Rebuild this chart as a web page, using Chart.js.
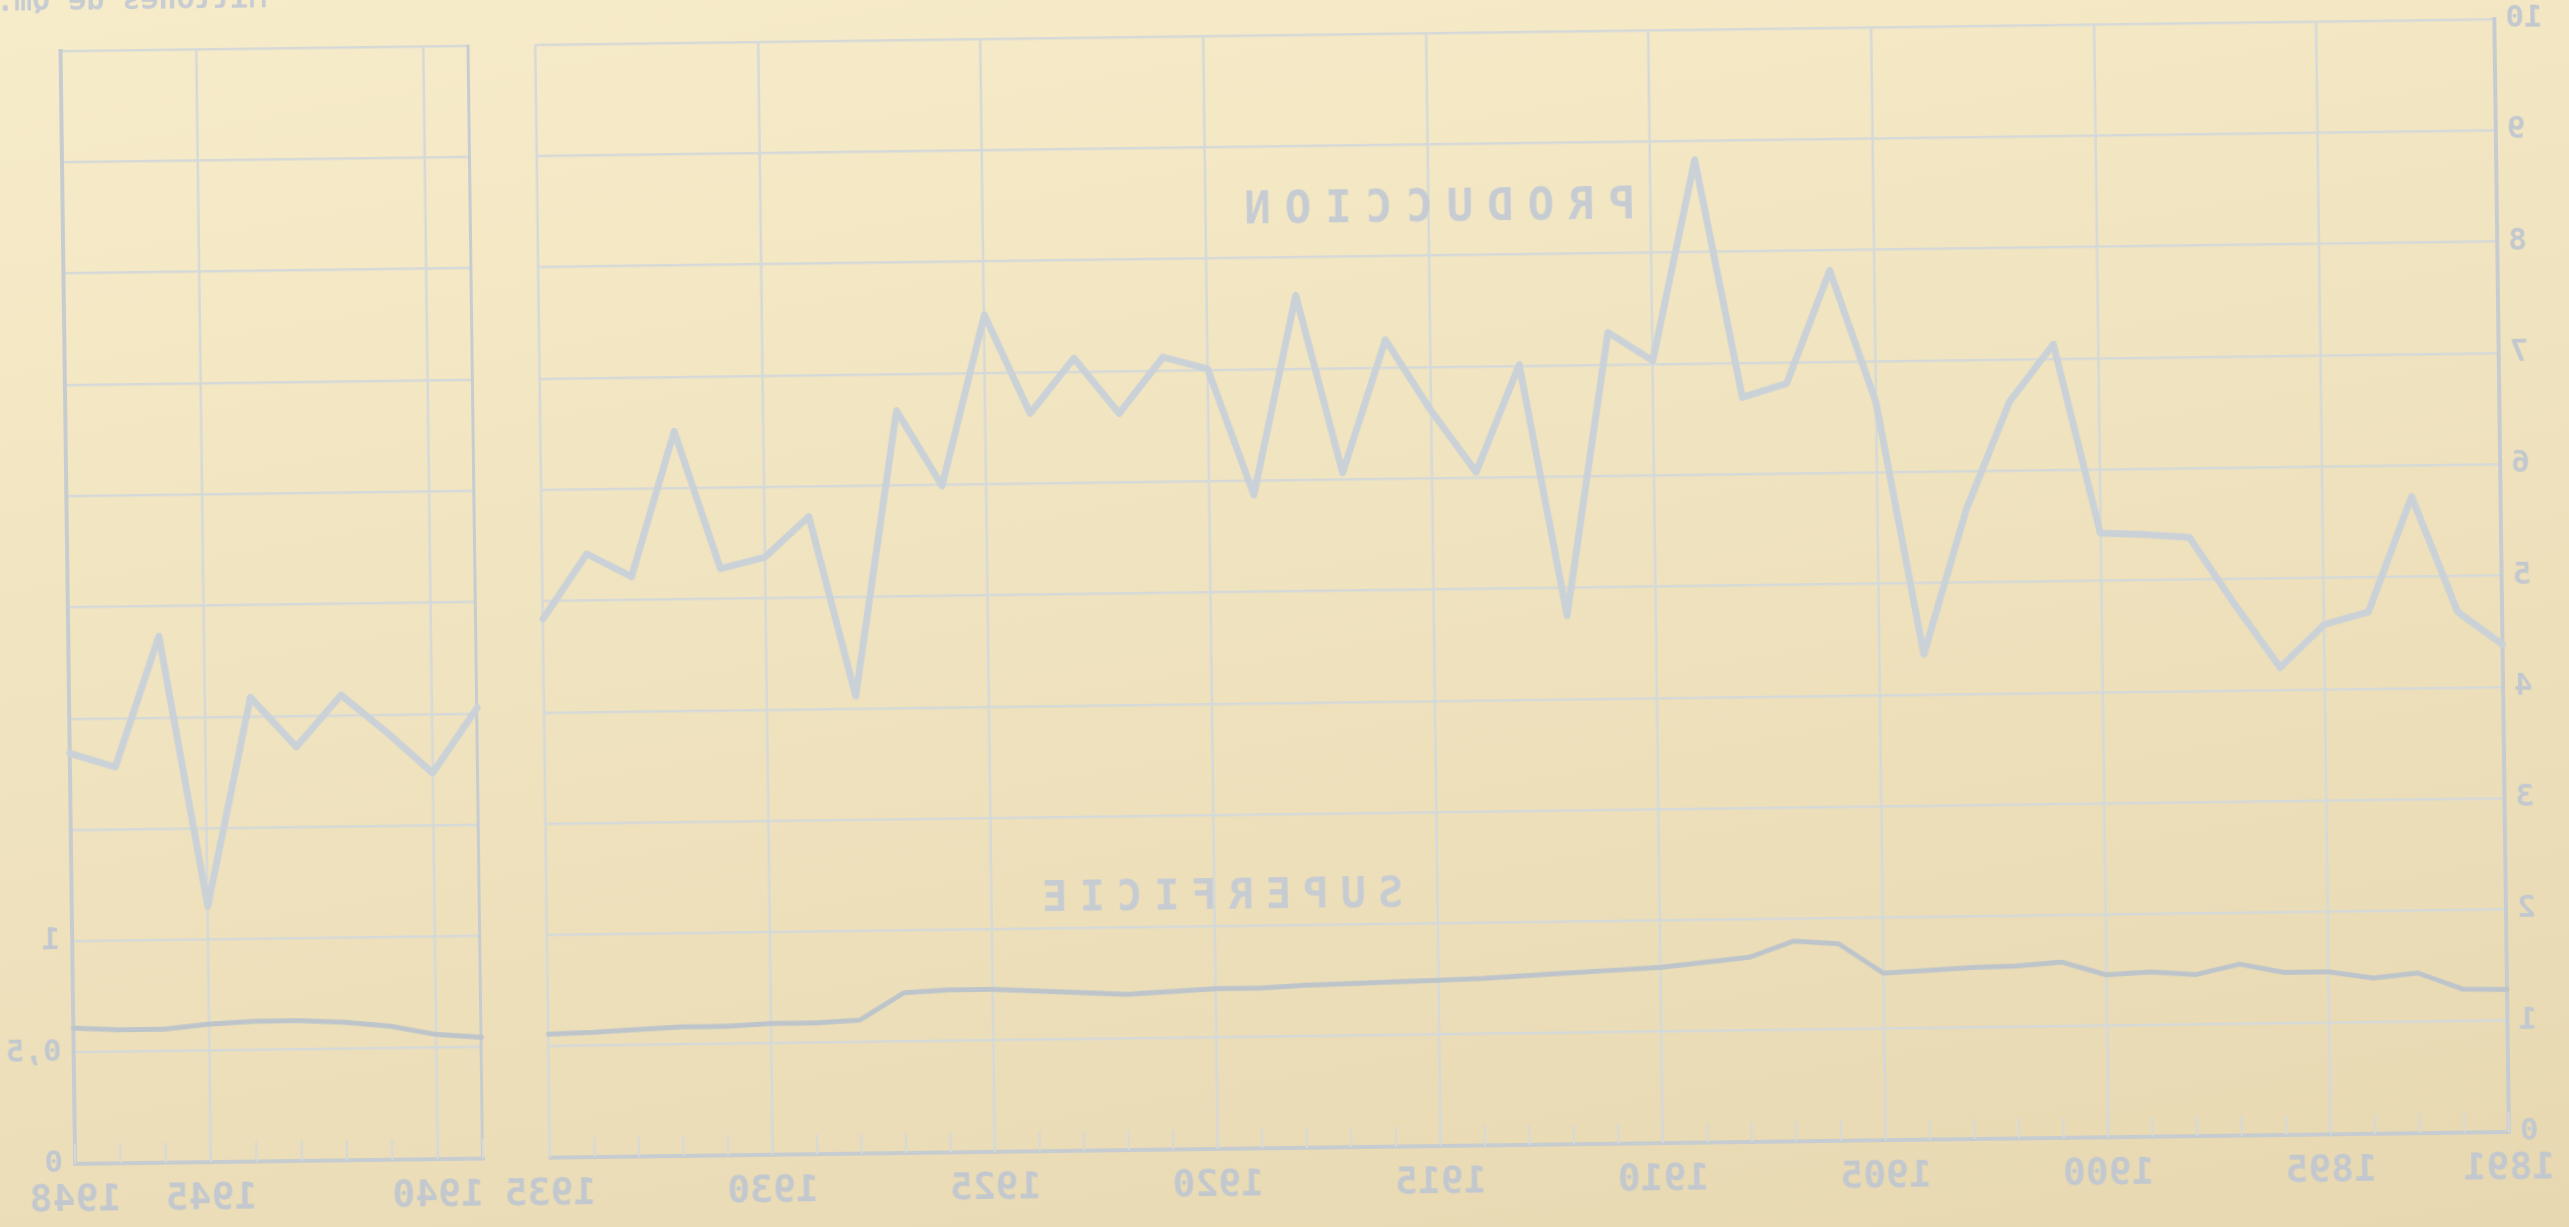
<!DOCTYPE html>
<html lang="es">
<head>
<meta charset="utf-8">
<title>Producción y superficie</title>
<script src="https://cdn.jsdelivr.net/npm/chart.js@4.4.1/dist/chart.umd.min.js"></script>
<style>
    html, body {
        margin: 0;
        padding: 0;
        width: 2569px;
        height: 1227px;
        overflow: hidden;
        background: linear-gradient(170deg, #f7ecca 0%, #f0e3bf 45%, #e7d8b1 100%);
    }
    /* la hoja se ve por transparencia: espejada y algo girada */
    #hoja {
        position: absolute;
        left: 0;
        top: 0;
        width: 2569px;
        height: 1227px;
        transform: rotate(-0.75deg) scaleX(-1);
        transform-origin: 50% 50%;
    }
    canvas { position: absolute; top: 0; }
    #graficoSerie { left: 0; }
    #graficoPost { left: 2080px; }
    .rotulo {
        position: absolute;
        font-family: 'DejaVu Sans Mono', monospace;
        font-weight: bold;
        color: #c6ccd2;
        white-space: nowrap;
    }
</style>
</head>
<body>
<div id="hoja">
    <canvas id="graficoSerie" width="2078" height="1227"></canvas>
    <canvas id="graficoPost" width="489" height="1227"></canvas>
    <div class="rotulo" style="left:2294px; top:-31px; font-size:30px; line-height:30px;">Millones de Qm.</div>
    <div class="rotulo" style="left:1131px; top:207px; font-size:44px; letter-spacing:14px; transform:translate(-50%,-50%);">PRODUCCION</div>
    <div class="rotulo" style="left:1356px; top:893px; font-size:42px; letter-spacing:12px; transform:translate(-50%,-50%);">SUPERFICIE</div>
</div>

<script>
// ===================================
// Producción y superficie 1891-1935 y 1939-1948
// ===================================

// Años de cada panel
const aniosSerie = [1891, 1892, 1893, 1894, 1895, 1896, 1897, 1898, 1899, 1900,
    1901, 1902, 1903, 1904, 1905, 1906, 1907, 1908, 1909, 1910,
    1911, 1912, 1913, 1914, 1915, 1916, 1917, 1918, 1919, 1920,
    1921, 1922, 1923, 1924, 1925, 1926, 1927, 1928, 1929, 1930,
    1931, 1932, 1933, 1934, 1935];
const aniosPost = [1939, 1940, 1941, 1942, 1943, 1944, 1945, 1946, 1947, 1948];

// Producción (escala 0-10)
const produccion = [4.38, 4.68, 5.72, 4.69, 4.58, 4.20, 4.77, 5.38, 5.41, 5.43,
    7.13, 6.62, 5.66, 4.36, 6.63, 7.82, 6.81, 6.69, 8.83, 7.03,
    7.29, 4.75, 7.01, 6.05, 6.61, 7.25, 6.06, 7.66, 5.87, 7.01,
    7.12, 6.62, 7.12, 6.63, 7.52, 5.99, 6.67, 4.11, 5.73, 5.37,
    5.27, 6.51, 5.21, 5.42, 4.84];
const produccionPost = [4.05, 3.47, 3.84, 4.18, 3.72, 4.17, 2.30, 4.73, 3.56, 3.69];

// Superficie (escala 0-5, rotulada 0 / 0,5 / 1)
const superficie = [0.64, 0.645, 0.72, 0.70, 0.73, 0.73, 0.77, 0.725, 0.74, 0.73,
    0.79, 0.775, 0.77, 0.76, 0.75, 0.885, 0.90, 0.83, 0.81, 0.79,
    0.78, 0.77, 0.76, 0.75, 0.745, 0.74, 0.735, 0.73, 0.72, 0.72,
    0.71, 0.70, 0.71, 0.72, 0.73, 0.73, 0.72, 0.60, 0.59, 0.59,
    0.58, 0.58, 0.57, 0.56, 0.555];
const superficiePost = [0.545, 0.56, 0.60, 0.62, 0.63, 0.63, 0.62, 0.60, 0.60, 0.61];

// Marcas de los ejes
const ticksAnios = [1891, 1895, 1900, 1905, 1910, 1915, 1920, 1925, 1930, 1935];
const ticksAniosPost = [1939, 1940, 1945, 1948];
const ticksProduccion = [0, 1, 2, 3, 4, 5, 6, 7, 8, 9, 10];
const ticksSuperficie = [0, 0.5, 1];

// Colores
const colorRejilla = '#d5d9d7';
const colorMarco = '#c6ccd0';
const colorTexto = '#c2c8ce';
const colorProduccion = '#cbd2d7';
const colorSuperficie = '#bec5ca';

const fuenteAnios = { family: "'DejaVu Sans Mono', monospace", size: 38, weight: 'bold' };
const fuenteEscala = { family: "'DejaVu Sans Mono', monospace", size: 31, weight: 'bold' };

// Pequeñas marcas anuales sobre el eje horizontal
const marcasAnuales = {
    id: 'marcasAnuales',
    beforeDatasetsDraw(chart, args, opts) {
        const { ctx, chartArea } = chart;
        const x = chart.scales.x;
        ctx.save();
        ctx.strokeStyle = colorRejilla;
        ctx.lineWidth = 2;
        opts.anios.forEach(a => {
            const px = x.getPixelForValue(a);
            ctx.beginPath();
            ctx.moveTo(px, chartArea.bottom);
            ctx.lineTo(px, chartArea.bottom - 20);
            ctx.stroke();
        });
        ctx.restore();
    }
};

function puntos(anios, valores) {
    return anios.map((a, i) => ({ x: a, y: valores[i] }));
}

function serie(label, data, eje, color, ancho) {
    return {
        label: label,
        data: data,
        yAxisID: eje,
        borderColor: color,
        borderWidth: ancho,
        pointRadius: 0,
        tension: 0,
        borderJoinStyle: 'round',
        borderCapStyle: 'round',
        clip: false
    };
}

function fijarTicks(valores) {
    return function(scale) {
        scale.ticks = valores.map(v => ({ value: v }));
    };
}

// el eje de años no debe recortar el área por sus rótulos extremos
function altoEjeAnios(scale) {
    scale.height = 79;
    scale.paddingLeft = 0;
    scale.paddingRight = 0;
}

// Panel principal 1891-1935
new Chart(document.getElementById('graficoSerie'), {
    type: 'line',
    data: {
        datasets: [
            serie('Producción', puntos(aniosSerie, produccion), 'y', colorProduccion, 7),
            serie('Superficie', puntos(aniosSerie, superficie), 'y2', colorSuperficie, 5)
        ]
    },
    options: {
        responsive: false,
        animation: false,
        devicePixelRatio: 1,
        layout: { padding: { top: 35, right: 52, left: 0, bottom: 0 } },
        plugins: {
            legend: { display: false },
            tooltip: { enabled: false },
            marcasAnuales: { anios: aniosSerie }
        },
        scales: {
            x: {
                type: 'linear',
                min: 1891,
                max: 1935,
                afterBuildTicks: fijarTicks(ticksAnios),
                afterFit: altoEjeAnios,
                grid: { color: colorRejilla, lineWidth: 2.5, drawTicks: false },
                border: { color: colorMarco, width: 4 },
                ticks: {
                    autoSkip: false,
                    maxRotation: 0,
                    padding: 14,
                    color: colorTexto,
                    font: fuenteAnios,
                    callback: v => String(v)
                }
            },
            y: {
                min: 0,
                max: 10,
                afterBuildTicks: fijarTicks(ticksProduccion),
                afterFit: s => { s.width = 67; },
                grid: { color: colorRejilla, lineWidth: 2.5, drawTicks: false },
                border: { color: colorMarco, width: 4 },
                ticks: { padding: 11, color: colorTexto, font: fuenteEscala, callback: v => String(v) }
            },
            y2: { display: false, min: 0, max: 5 }
        }
    },
    plugins: [marcasAnuales]
});

// Panel 1939-1948
new Chart(document.getElementById('graficoPost'), {
    type: 'line',
    data: {
        datasets: [
            serie('Producción', puntos(aniosPost, produccionPost), 'y', colorProduccion, 7),
            serie('Superficie', puntos(aniosPost, superficiePost), 'y2', colorSuperficie, 5)
        ]
    },
    options: {
        responsive: false,
        animation: false,
        devicePixelRatio: 1,
        layout: { padding: { top: 35, right: 0, left: 0, bottom: 0 } },
        plugins: {
            legend: { display: false },
            tooltip: { enabled: false },
            marcasAnuales: { anios: aniosPost }
        },
        scales: {
            x: {
                type: 'linear',
                min: 1939,
                max: 1948,
                afterBuildTicks: fijarTicks(ticksAniosPost),
                afterFit: altoEjeAnios,
                grid: { color: colorRejilla, lineWidth: 2.5, drawTicks: false },
                border: { color: colorMarco, width: 4 },
                ticks: {
                    autoSkip: false,
                    maxRotation: 0,
                    padding: 14,
                    color: colorTexto,
                    font: fuenteAnios,
                    callback: v => v === 1939 ? '' : String(v)
                }
            },
            y: {
                position: 'left',
                min: 0,
                max: 10,
                afterBuildTicks: fijarTicks(ticksProduccion),
                afterFit: s => { s.width = 13; },
                grid: { color: colorRejilla, lineWidth: 2.5, drawTicks: false },
                border: { color: colorMarco, width: 3 },
                ticks: { display: false }
            },
            y2: {
                position: 'right',
                min: 0,
                max: 5,
                afterBuildTicks: fijarTicks(ticksSuperficie),
                afterFit: s => { s.width = 68; },
                grid: { display: false, drawTicks: false },
                border: { color: colorMarco, width: 4 },
                ticks: {
                    padding: 12,
                    color: colorTexto,
                    font: fuenteEscala,
                    callback: v => v === 0.5 ? '0,5' : String(v)
                }
            }
        }
    },
    plugins: [marcasAnuales]
});
</script>
</body>
</html>
